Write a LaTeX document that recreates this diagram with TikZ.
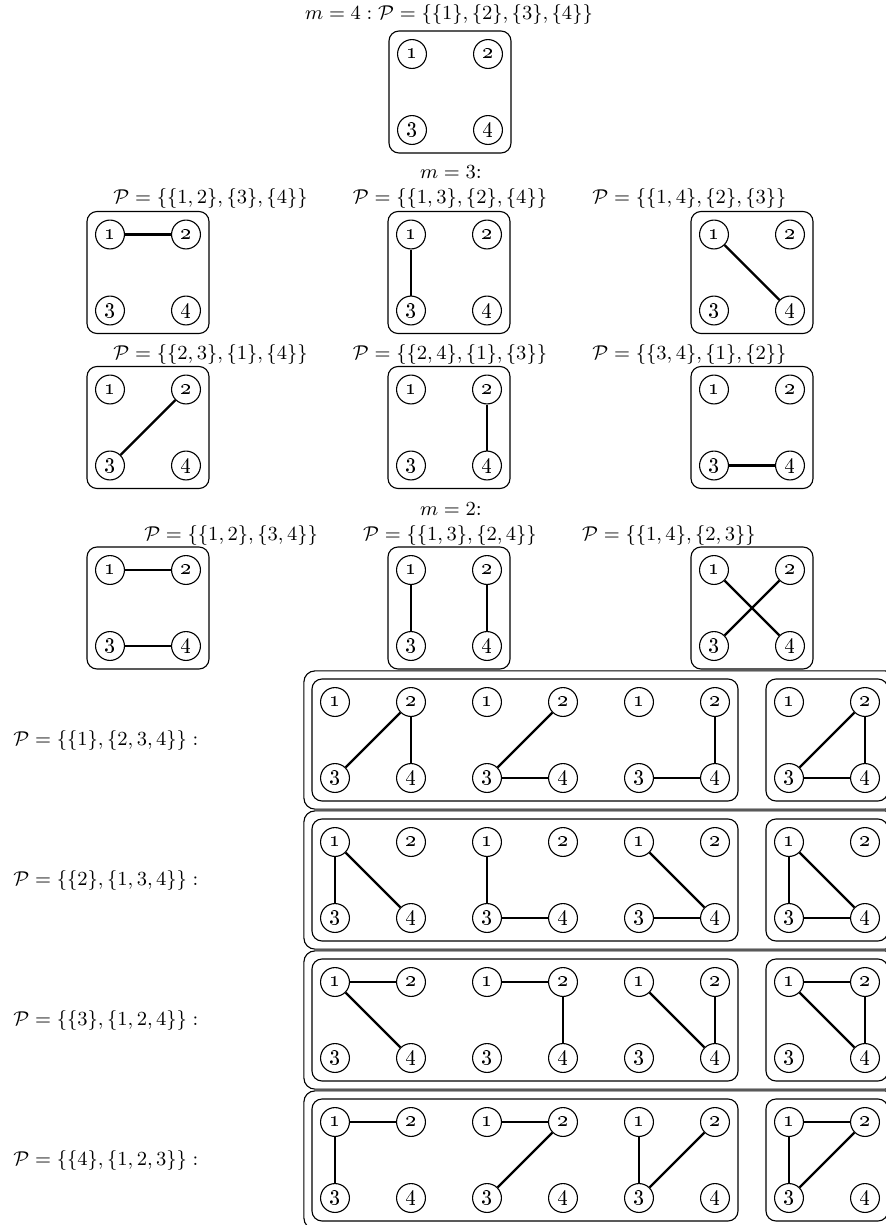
\documentclass[tikz,border=0pt]{standalone}
\usetikzlibrary{fit}
\tikzset{
  vtx/.style={circle, draw, line width=0.5pt, minimum size=13pt, inner sep=0pt, font=\normalsize},
  edge/.style={line width=1pt},
  gbox/.style={draw, rounded corners=4.5pt, line width=0.5pt, inner sep=3.6pt},
  obox/.style={draw, rounded corners=5pt, line width=0.5pt, inner sep=3.4pt},
  lbl/.style={anchor=base, inner sep=0pt, font=\fontsize{9.4}{11.3}\selectfont},
  plbl/.style={anchor=west, inner sep=0pt, font=\fontsize{9.4}{11.3}\selectfont},
}
\newcommand\qnodes[3]{%
  \node[vtx] (#1-1) at (#2-38,#3-38) {\oldstylenums{1}};
  \node[vtx] (#1-2) at (#2+38,#3-38) {\oldstylenums{2}};
  \node[vtx] (#1-3) at (#2-38,#3+38) {\oldstylenums{3}};
  \node[vtx] (#1-4) at (#2+38,#3+38) {\oldstylenums{4}};
}
\newcommand\qedges[2]{%
  \foreach \a/\b in {#2} {\draw[edge] (#1-\a) -- (#1-\b);}
}
\newcommand\qgraph[4]{%
  \qnodes{#1}{#2}{#3}
  \qedges{#1}{#4}
  \node[gbox, fit=(#1-1)(#1-4)] (#1-box) {};
}
\newcommand\partrow[7]{%
  % #1 name, #2 y, #3 label, #4-#7 edges
  \node[plbl] (#1-lbl) at (13,#2) {#3};
  \qnodes{#1a}{373}{#2}\qedges{#1a}{#4}
  \qnodes{#1b}{525}{#2}\qedges{#1b}{#5}
  \qnodes{#1c}{677}{#2}\qedges{#1c}{#6}
  \qnodes{#1d}{827}{#2}\qedges{#1d}{#7}
  \node[gbox, fit=(#1a-1)(#1c-4)] (#1-in) {};
  \node[gbox, fit=(#1d-1)(#1d-4)] (#1-sm) {};
  \node[obox, fit=(#1-in)(#1-sm)] (#1-out) {};
}
\begin{document}
\begin{tikzpicture}[x=0.45pt, y=-0.45pt]
\useasboundingbox (0,0) rectangle (886,1225);
\clip (0,0) rectangle (886,1225);

% m = 4
\node[lbl] (t4) at (449,19) {$m = 4 : \mathcal{P} = \{\{1\},\{2\},\{3\},\{4\}\}$};
\qnodes{g0}{450}{92}
\node[gbox, fit=(g0-1)(g0-4)] (g0-box) {};

% m = 3
\node[lbl] (t3) at (451,178) {$m = 3$:};
\node[lbl] (l12) at (450,203) {$\mathcal{P} = \{\{1,3\},\{2\},\{4\}\}$};
\node[lbl, anchor=base east] (l11) at ([xshift=-20pt]l12.base west) {$\mathcal{P} = \{\{1,2\},\{3\},\{4\}\}$};
\node[lbl, anchor=base west] (l13) at ([xshift=20pt]l12.base east) {$\mathcal{P} = \{\{1,4\},\{2\},\{3\}\}$};
\qgraph{r1a}{148}{272.5}{1/2}
\qgraph{r1b}{449}{272.5}{1/3}
\qgraph{r1c}{752}{272.5}{1/4}

\node[lbl] (l22) at (450,359) {$\mathcal{P} = \{\{2,4\},\{1\},\{3\}\}$};
\node[lbl, anchor=base east] (l21) at ([xshift=-20pt]l22.base west) {$\mathcal{P} = \{\{2,3\},\{1\},\{4\}\}$};
\node[lbl, anchor=base west] (l23) at ([xshift=20pt]l22.base east) {$\mathcal{P} = \{\{3,4\},\{1\},\{2\}\}$};
\qgraph{r2a}{148}{427.5}{2/3}
\qgraph{r2b}{449}{427.5}{2/4}
\qgraph{r2c}{752}{427.5}{3/4}

% m = 2
\node[lbl] (t2) at (451,515) {$m = 2$:};
\node[lbl] (l32) at (450,540) {$\mathcal{P} = \{\{1,3\},\{2,4\}\}$};
\node[lbl, anchor=base east] (l31) at ([xshift=-20pt]l32.base west) {$\mathcal{P} = \{\{1,2\},\{3,4\}\}$};
\node[lbl, anchor=base west] (l33) at ([xshift=20pt]l32.base east) {$\mathcal{P} = \{\{1,4\},\{2,3\}\}$};
\qgraph{r3a}{148}{608}{1/2,3/4}
\qgraph{r3b}{449}{608}{1/3,2/4}
\qgraph{r3c}{752}{608}{1/4,2/3}

% partitions with one singleton
\partrow{pa}{740}{$\mathcal{P} = \{\{1\},\{2,3,4\}\} :$}{2/3,2/4}{2/3,3/4}{2/4,3/4}{2/3,2/4,3/4}
\partrow{pb}{880}{$\mathcal{P} = \{\{2\},\{1,3,4\}\} :$}{1/3,1/4}{1/3,3/4}{1/4,3/4}{1/3,1/4,3/4}
\partrow{pc}{1020}{$\mathcal{P} = \{\{3\},\{1,2,4\}\} :$}{1/2,1/4}{1/2,2/4}{1/4,2/4}{1/2,1/4,2/4}
\partrow{pd}{1160}{$\mathcal{P} = \{\{4\},\{1,2,3\}\} :$}{1/2,1/3}{1/2,2/3}{1/3,2/3}{1/2,1/3,2/3}
\end{tikzpicture}
\end{document}
